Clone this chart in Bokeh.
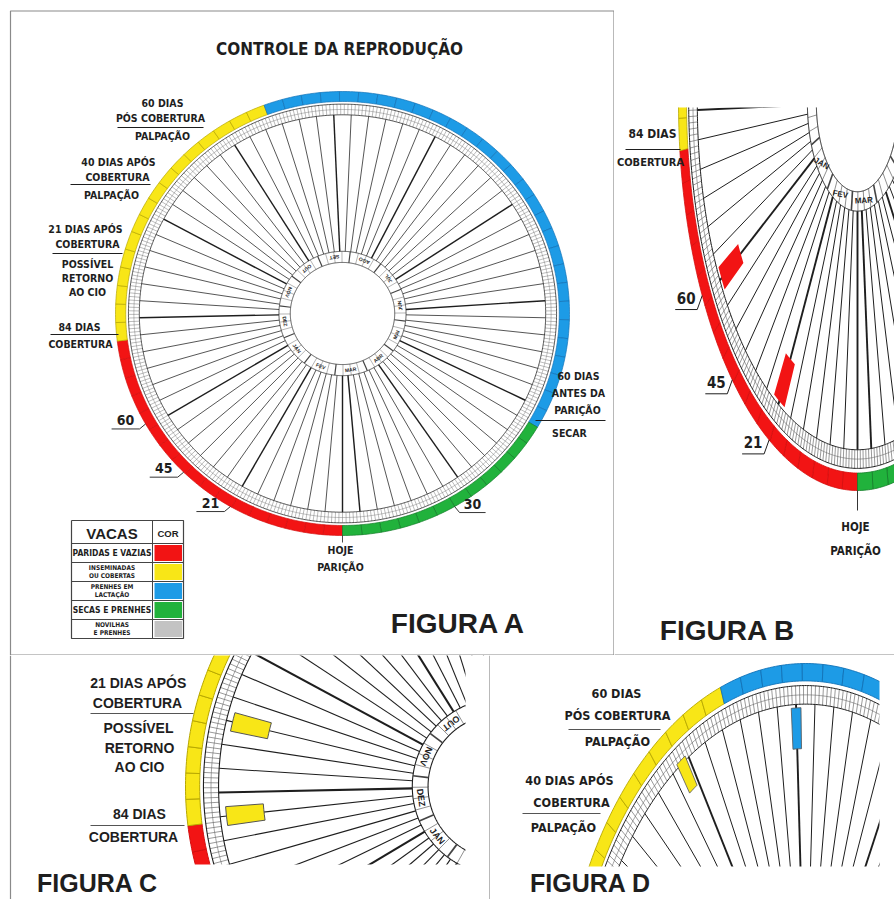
import numpy as np
from bokeh.plotting import figure
from bokeh.layouts import column, row
from bokeh.models import Range1d, ColumnDataSource, Spacer
from bokeh.core.properties import value
from bokeh.embed import file_html
from bokeh.resources import INLINE

# ---------------- data ----------------
TITLE = "CONTROLE DA REPRODUÇÃO"
CYCLE_DAYS = 365
PHASE_NAMES = ["PARIDAS E VAZIAS", "INSEMINADAS OU COBERTAS", "PRENHES EM LACTAÇÃO", "SECAS E PRENHES"]
PHASE_START = [0, 84, 162, 305]
PHASE_END = [84, 162, 305, 365]
PHASE_COLORS = ["#f21414", "#f8e617", "#1d9be6", "#21b23c"]
PHASE_EDGES = ["#d40e0e", "#b8a800", "#1273b8", "#147d29"]
BOX_DAYS = 5
SPOKE_DAYS = 5
MONTHS = ["JAN", "FEV", "MAR", "ABR", "MAI", "JUN", "JUL", "AGO", "SET", "OUT", "NOV", "DEZ"]
JAN_DEG = 218
LEGEND_HEADER = ["VACAS", "COR"]
LEGEND_LABELS = [["PARIDAS E VAZIAS"], ["INSEMINADAS", "OU COBERTAS"], ["PRENHES EM", "LACTAÇÃO"],
                 ["SECAS E PRENHES"], ["NOVILHAS", "E PRENHES"]]
LEGEND_COLORS = ["#f21414", "#f8e617", "#1d9be6", "#21b23c", "#c3c3c3"]
COVER_DAY = 84
AFTER_COVER = [21, 40, 60]
DRY_BEFORE = 60
MARK_TEXT = ["60", "45", "21"]
MARK_DAY = [61, 45, 30]
PRE_TEXT = ["30"]
PRE_DAY = [335]
TAGS_B_DAY = [60, 30]
TAGS_B_COLOR = ["#f21414", "#f21414"]
TAGS_C_DAY = [105, 85]
TAGS_C_COLOR = ["#f8e617", "#f8e617"]
TAGS_D_DAY = [148, 180]
TAGS_D_COLOR = ["#f8e617", "#1d9be6"]

# ---------------- styling ----------------
FN = value("DejaVu Sans Condensed, Liberation Sans Narrow, sans-serif")
FB = value("Liberation Sans, Arial, sans-serif")
INK = "#1e1e1e"
FRAME = "#8a8a8a"
R_OUT, R_COL_IN = 1.0, 0.955
R_T1, R_T2 = 0.943, 0.895
R_M1, R_M0 = 0.28, 0.23


def ring_xy(day, r):
    t = np.deg2rad(270 - np.asarray(day, dtype=float) * 360.0 / CYCLE_DAYS)
    return r * np.cos(t), r * np.sin(t)


def polar(deg, r):
    t = np.deg2rad(np.asarray(deg, dtype=float))
    return r * np.cos(t), r * np.sin(t)


def sector(d0, d1, r0, r1, n=8):
    dd = np.linspace(d0, d1, n)
    xo, yo = ring_xy(dd, r1)
    xi, yi = ring_xy(dd[::-1], r0)
    return list(np.r_[xo, xi]), list(np.r_[yo, yi])


class View:
    def __init__(s, ox, oy, w, h, cx, cy, sx, sy):
        s.ox, s.oy, s.w, s.h, s.cx, s.cy, s.sx, s.sy = ox, oy, w, h, cx, cy, sx, sy

    def d(s, X, Y):
        return (X - s.cx) / s.sx, (s.cy - Y) / s.sy

    def px(s, x, y):
        return s.cx + x * s.sx, s.cy - y * s.sy

    def make(s):
        x0 = (s.ox - s.cx) / s.sx
        x1 = (s.ox + s.w - s.cx) / s.sx
        y1 = (s.cy - s.oy) / s.sy
        y0 = (s.cy - s.oy - s.h) / s.sy
        p = figure(width=s.w, height=s.h, x_range=Range1d(x0, x1), y_range=Range1d(y0, y1),
                   output_backend="svg", toolbar_location=None, x_axis_type=None, y_axis_type=None,
                   min_border=0)
        p.grid.visible = False
        p.outline_line_color = None
        p.background_fill_color = "white"
        p.border_fill_color = "white"
        return p


def txt(p, v, X, Y, texts, size, font=FN, bold=True, color=INK, align="center", baseline="middle", angle=0.0):
    if not isinstance(texts, (list, tuple)):
        X, Y, texts = [X], [Y], [texts]
    pts = [v.d(a, b) for a, b in zip(X, Y)]
    p.text(x=[q[0] for q in pts], y=[q[1] for q in pts], text=list(texts), text_font=font,
           text_font_size=size, text_font_style="bold" if bold else "normal", text_color=color,
           text_align=align, text_baseline=baseline, angle=angle)


def pline(p, v, X, Y, w=1.0, color=INK):
    pts = [v.d(a, b) for a, b in zip(X, Y)]
    p.line([q[0] for q in pts], [q[1] for q in pts], line_color=color, line_width=w)


def mask(p, v, X0, Y0, X1, Y1):
    a = v.d(X0, Y0)
    b = v.d(X1, Y1)
    p.quad(left=min(a[0], b[0]), right=max(a[0], b[0]), bottom=min(a[1], b[1]), top=max(a[1], b[1]),
           fill_color="white", line_color=None)


def draw_wheel(p, v, lw, tick_lw, box_lw, month_size, clip):
    xs, ys, fc, lc = [], [], [], []
    for s, e, c, ec in zip(PHASE_START, PHASE_END, PHASE_COLORS, PHASE_EDGES):
        n = max(1, int(round((e - s) / BOX_DAYS)))
        edges = np.linspace(s, e, n + 1)
        for a, b in zip(edges[:-1], edges[1:]):
            x, y = sector(a, b, R_COL_IN, R_OUT)
            xs.append(x); ys.append(y); fc.append(c); lc.append(ec)
    p.patches(xs=xs, ys=ys, fill_color=fc, line_color=lc, line_width=box_lw)

    # daily tick ring
    days = np.arange(CYCLE_DAYS)
    ax, ay = ring_xy(days, R_T2)
    bx, by = ring_xy(days, R_T1)
    p.multi_line(xs=[[a, b] for a, b in zip(ax, bx)], ys=[[a, b] for a, b in zip(ay, by)],
                 line_color="#555555", line_width=tick_lw)
    full = np.linspace(0, CYCLE_DAYS, 900)
    for r in (R_T1, R_T2):
        x, y = ring_xy(full, r)
        p.line(x, y, line_color=INK, line_width=lw)
    x, y = ring_xy(full, (R_T1 + R_T2) / 2)
    p.line(x, y, line_color="#666666", line_width=tick_lw)

    # spokes
    sd = np.arange(0, CYCLE_DAYS, SPOKE_DAYS)
    ax, ay = ring_xy(sd, R_T2)
    bx, by = ring_xy(sd, R_M1)
    src = ColumnDataSource(dict(xs=[[a, b] for a, b in zip(ax, bx)], ys=[[a, b] for a, b in zip(ay, by)],
                                w=[lw * 1.9 if d % 30 == 0 else lw for d in sd]))
    p.multi_line(xs="xs", ys="ys", line_width="w", line_color=INK, source=src)

    # month ring
    for r in (R_M1, R_M0):
        x, y = ring_xy(full, r)
        p.line(x, y, line_color=INK, line_width=lw)
    minor = JAN_DEG - 15 + np.arange(48) * 7.5
    mx0, my0 = polar(minor, R_M0)
    mx1, my1 = polar(minor, R_M1)
    p.multi_line(xs=[[a, b] for a, b in zip(mx0, mx1)], ys=[[a, b] for a, b in zip(my0, my1)],
                 line_color="#444444", line_width=[lw * 1.6 if i % 4 == 0 else tick_lw for i in range(48)])
    cdeg = (JAN_DEG + 30 * np.arange(12)) % 360
    cx, cy = polar(cdeg, (R_M0 + R_M1) / 2)
    X0, Y0, X1, Y1 = clip
    mx, my, mt, ma = [], [], [], []
    for dg, x, y, m in zip(cdeg, cx, cy, MONTHS):
        X, Y = v.px(x, y)
        if not (X0 <= X <= X1 and Y0 <= Y <= Y1):
            continue
        t = np.deg2rad(dg)
        ux, uy = -np.cos(t) * v.sx, -np.sin(t) * v.sy
        mx.append(x); my.append(y); mt.append(m); ma.append(float(np.arctan2(-ux, uy)))
    if mt:
        p.text(x=mx, y=my, text=mt, angle=ma, text_font=FB, text_font_size=month_size,
               text_font_style="bold", text_color=INK, text_align="center", text_baseline="middle")


def draw_tags(p, days, colors, r0, r1, half, edge, lw):
    xs, ys = [], []
    for dd in days:
        x, y = sector(dd - half, dd + half, r0, r1, n=4)
        xs.append(x); ys.append(y)
    p.patches(xs=xs, ys=ys, fill_color=colors, line_color=edge, line_width=lw)


def leader(p, v, days, texts, side, size, dy_line, dx_end, length, dy_text, w):
    sg = -1 if side == "left" else 1
    for dd, t in zip(days, texts):
        X, Y = v.px(*ring_xy(dd, 1.0))
        pline(p, v, [X, X + sg * dx_end, X + sg * (dx_end + length)], [Y, Y + dy_line, Y + dy_line], w)
        txt(p, v, X + sg * (dx_end + length / 2), Y + dy_line - dy_text, t, size)


# ---------------- panels (page pixels) ----------------
B_TOP = 107
VA = View(0, 0, 614, 655, 342, 313, 227, 222)
VB = View(614, B_TOP, 280, 655 - B_TOP, 857, 102, 179, 388)
VC = View(0, 655, 490, 244, 500, 786, 315, 315)
VD = View(490, 655, 404, 244, 805, 1050, 246, 387)

# ----- Figure A -----
pa = VA.make()
draw_wheel(pa, VA, lw=0.75, tick_lw=0.4, box_lw=0.7, month_size="5px", clip=(10, 10, 604, 645))
pline(pa, VA, [10, 10, 613.5, 613.5], [899, 10.5, 10.5, 655], 1.2, FRAME)
pline(pa, VA, [10, 614], [654.5, 654.5], 1.2, FRAME)
txt(pa, VA, 339, 48, TITLE, "17px")
s11 = "10.5px"
txt(pa, VA, [162, 160], [102, 117], [f"{AFTER_COVER[2]} DIAS", "PÓS COBERTURA"], s11)
pline(pa, VA, [117, 203], [127, 127])
txt(pa, VA, 162, 135, "PALPAÇÃO", s11)
txt(pa, VA, [118, 117], [161, 176], [f"{AFTER_COVER[1]} DIAS APÓS", "COBERTURA"], s11)
pline(pa, VA, [70, 150], [184, 184])
txt(pa, VA, 111, 194, "PALPAÇÃO", s11)
txt(pa, VA, [85, 87], [228, 243], [f"{AFTER_COVER[0]} DIAS APÓS", "COBERTURA"], s11)
pline(pa, VA, [52, 122], [253, 253])
txt(pa, VA, [87, 87, 87], [263, 277, 291], ["POSSÍVEL", "RETORNO", "AO CIO"], s11)
txt(pa, VA, 79, 326, f"{COVER_DAY} DIAS", s11)
pline(pa, VA, [50, 118], [334, 334])
txt(pa, VA, 80, 343, "COBERTURA", s11)
txt(pa, VA, [578, 578, 577], [375, 392, 409], [f"{DRY_BEFORE} DIAS", "ANTES DA", "PARIÇÃO"], s11)
pline(pa, VA, [535, 605], [420, 420])
txt(pa, VA, 569, 432, "SECAR", s11)
hx, hy = VA.px(*ring_xy(0, 1.0))
pline(pa, VA, [hx, hx], [hy, hy + 7], 0.8)
txt(pa, VA, [340, 340], [549, 566], ["HOJE", "PARIÇÃO"], s11)
leader(pa, VA, MARK_DAY, MARK_TEXT, "left", "14px", 5, 6, 28, 9, 0.9)
leader(pa, VA, PRE_DAY, PRE_TEXT, "right", "14px", 6, 5, 26, 9, 0.9)

# legend table
LX0, LXC, LX1 = 71, 152, 183
LY0, LYH, LY1 = 520, 543, 638
rh = (LY1 - LYH) / len(LEGEND_LABELS)
for i, (lab, col) in enumerate(zip(LEGEND_LABELS, LEGEND_COLORS)):
    top = LYH + i * rh
    a = VA.d(LXC + 2, top + 1.5)
    b = VA.d(LX1 - 1.5, top + rh - 1.5)
    pa.quad(left=a[0], right=b[0], top=a[1], bottom=b[1], fill_color=col, line_color=None)
    if len(lab) == 1:
        txt(pa, VA, (LX0 + LXC) / 2, top + rh / 2, lab[0], "8.5px")
    else:
        txt(pa, VA, [(LX0 + LXC) / 2] * 2, [top + rh / 2 - 3.6, top + rh / 2 + 3.8], lab, "6.5px")
    pline(pa, VA, [LX0, LX1], [top, top], 1.0, "#444444")
pline(pa, VA, [LX0, LX1, LX1, LX0, LX0], [LY0, LY0, LY1, LY1, LY0], 1.2, "#444444")
pline(pa, VA, [LXC, LXC], [LY0, LY1], 1.0, "#444444")
txt(pa, VA, (LX0 + LXC) / 2, (LY0 + LYH) / 2 + 1, LEGEND_HEADER[0], "15px", font=FB)
txt(pa, VA, (LXC + LX1) / 2, (LY0 + LYH) / 2 + 1, LEGEND_HEADER[1], "9.5px", font=FB)
txt(pa, VA, 458, 623, "FIGURA A", "28px", font=FB)

# ----- Figure B -----
pb = VB.make()
draw_wheel(pb, VB, lw=1.0, tick_lw=0.6, box_lw=0.8, month_size="8px", clip=(624, 125, 880, 645))
draw_tags(pb, TAGS_B_DAY, TAGS_B_COLOR, 0.76, 0.885, 2.2, None, 0)
pline(pb, VB, [614, 894], [654.5, 654.5], 1.2, FRAME)
txt(pb, VB, 652, 133, f"{COVER_DAY} DIAS", "12px")
pline(pb, VB, [625, 680], [149, 149])
txt(pb, VB, 650, 162, "COBERTURA", "11px")
leader(pb, VB, MARK_DAY, MARK_TEXT, "left", "15px", 14, 5, 22, 12, 1.0)
bx, by = VB.px(*ring_xy(0, 1.0))
pline(pb, VB, [bx, bx], [by, by + 20], 0.9)
txt(pb, VB, [855, 855], [526, 550], ["HOJE", "PARIÇÃO"], "11.5px")
txt(pb, VB, 727, 630, "FIGURA B", "28px", font=FB)
b_col = column(Spacer(width=280, height=B_TOP), pb, spacing=0)

# ----- Figure C -----
pc = VC.make()
draw_wheel(pc, VC, lw=1.1, tick_lw=0.6, box_lw=1.0, month_size="9px", clip=(20, 665, 455, 855))
draw_tags(pc, TAGS_C_DAY, TAGS_C_COLOR, 0.755, 0.875, 2.0, "#555555", 1.0)
mask(pc, VC, 465, 640, 510, 910)
mask(pc, VC, -20, 864, 510, 910)
pline(pc, VC, [10, 10], [655, 899], 1.2, FRAME)
pline(pc, VC, [489.5, 489.5], [655, 899], 1.2, FRAME)
s14 = "14px"
txt(pc, VC, [138, 137], [682, 702], [f"{AFTER_COVER[0]} DIAS APÓS", "COBERTURA"], s14, font=FB)
pline(pc, VC, [90, 193], [713, 713], 1.0, "#555555")
txt(pc, VC, [138, 139, 139], [727, 747, 766], ["POSSÍVEL", "RETORNO", "AO CIO"], s14, font=FB)
txt(pc, VC, 139, 813, f"{COVER_DAY} DIAS", s14, font=FB)
pline(pc, VC, [90, 184], [825, 825], 1.0, "#555555")
txt(pc, VC, 133, 836, "COBERTURA", s14, font=FB)
txt(pc, VC, 97, 882, "FIGURA C", "25px", font=FB)

# ----- Figure D -----
pd_ = VD.make()
draw_wheel(pd_, VD, lw=1.0, tick_lw=0.6, box_lw=0.9, month_size="9px", clip=(500, 665, 870, 855))
draw_tags(pd_, TAGS_D_DAY[:1], TAGS_D_COLOR[:1], 0.815, 0.905, 1.3, "#555555", 0.8)
draw_tags(pd_, TAGS_D_DAY[1:], TAGS_D_COLOR[1:], 0.78, 0.886, 1.3, "#555555", 0.8)
mask(pd_, VD, 879, 640, 910, 910)
mask(pd_, VD, 480, 866, 910, 910)
s12 = "12.5px"
txt(pd_, VD, [616, 617], [693, 715], [f"{AFTER_COVER[2]} DIAS", "PÓS COBERTURA"], s12)
pline(pd_, VD, [568, 660], [729, 729], 1.0, "#555555")
txt(pd_, VD, 617, 741, "PALPAÇÃO", s12)
txt(pd_, VD, [569, 571], [780, 802], [f"{AFTER_COVER[1]} DIAS APÓS", "COBERTURA"], s12)
pline(pd_, VD, [522, 600], [813, 813], 1.0, "#555555")
txt(pd_, VD, 563, 827, "PALPAÇÃO", s12)
txt(pd_, VD, 590, 882, "FIGURA D", "25px", font=FB)

layout = column(row(pa, b_col, spacing=0), row(pc, pd_, spacing=0), spacing=0)
open("out.html", "w").write(file_html(layout, INLINE))
